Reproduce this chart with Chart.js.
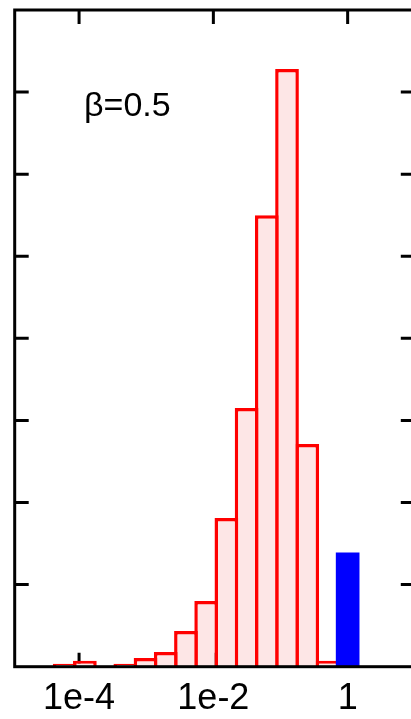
<!DOCTYPE html>
<html><head><meta charset="utf-8">
<script src="https://cdn.jsdelivr.net/npm/chart.js@4.4.1/dist/chart.umd.min.js"></script>
<style>
html,body{margin:0;padding:0;background:#fff;overflow:hidden;}
#wrap{position:relative;width:411px;height:719px;overflow:hidden;background:#fff;}
#c{position:absolute;left:0;top:0;}
#beta{position:absolute;left:84px;top:85px;font-family:"Liberation Sans",Arial,sans-serif;font-size:34px;line-height:normal;color:#000;white-space:nowrap;}
</style></head><body>
<div id="wrap"><canvas id="c" width="420" height="719"></canvas><div id="beta">β=0.5</div></div>
<script>
// Histogram bin centres (powers of two) and heights
const binCenters = [0.5, 0.25, 0.125, 0.0625, 0.03125, 0.015625, 0.0078125,
  0.00390625, 0.001953125, 0.0009765625, 0.00048828125, 0.000244140625,
  0.0001220703125, 0.00006103515625];
const redValues = [0.0037, 0.1356, 0.364, 0.275, 0.1576, 0.0906, 0.040,
  0.0217, 0.009, 0.0053, 0.0018, 0, 0.0037, 0.0018];
const blueCenters = [1];
const blueValues = [0.0693];
const xTickValues = [1e-4, 1e-2, 1];
const xTickLabels = ['1e-4', '1e-2', '1'];
const yTickValues = [0.05, 0.10, 0.15, 0.20, 0.25, 0.30, 0.35];

const frameTicks = {
  id: 'frameTicks',
  beforeDatasetsDraw(chart) {
    const {ctx, chartArea: a, scales: {x, y}} = chart;
    const L = 14;
    ctx.save();
    ctx.strokeStyle = '#000';
    ctx.lineWidth = 3;
    ctx.beginPath();
    x.ticks.forEach(t => {
      const px = x.getPixelForValue(t.value);
      ctx.moveTo(px, a.top); ctx.lineTo(px, a.top + L);
      ctx.moveTo(px, a.bottom); ctx.lineTo(px, a.bottom - L);
    });
    y.ticks.forEach(t => {
      const py = y.getPixelForValue(t.value);
      ctx.moveTo(a.left, py); ctx.lineTo(a.left + L, py);
      ctx.moveTo(a.right, py); ctx.lineTo(a.right - L, py);
    });
    ctx.stroke();
    ctx.restore();
  },
  afterDatasetsDraw(chart) {
    const {ctx, chartArea: a} = chart;
    ctx.save();
    ctx.strokeStyle = '#000';
    ctx.lineWidth = 3;
    ctx.strokeRect(a.left, a.top, a.right - a.left, a.bottom - a.top);
    ctx.restore();
  }
};

new Chart(document.getElementById('c'), {
  type: 'bar',
  data: {
    datasets: [
      {
        label: 'blue',
        data: blueCenters.map((x, i) => ({x, y: blueValues[i]})),
        backgroundColor: '#0000ff',
        borderWidth: 0,
        barThickness: 23,
        grouped: false,
        order: 0
      },
      {
        label: 'red',
        data: binCenters.map((x, i) => ({x, y: redValues[i]})),
        backgroundColor: '#fde6e6',
        borderColor: '#ff0000',
        borderWidth: 3.5,
        grouped: false,
        categoryPercentage: 1,
        barPercentage: 1.173,
        order: 1
      }
    ]
  },
  options: {
    responsive: false,
    animation: false,
    events: [],
    layout: {padding: {left: 0, right: 5.2, top: 10, bottom: 0}},
    plugins: {legend: {display: false}, tooltip: {enabled: false}},
    scales: {
      x: {
        type: 'logarithmic',
        position: 'bottom',
        min: 1.1e-5,
        max: 10,
        grid: {display: false, drawTicks: false},
        border: {display: false},
        afterBuildTicks: s => { s.ticks = xTickValues.map(v => ({value: v})); },
        afterFit: s => { s.height = 52.3; },
        ticks: {
          autoSkip: false,
          maxRotation: 0,
          padding: 11,
          color: '#000',
          font: {family: '"Liberation Sans", Arial, sans-serif', size: 36},
          callback: (v, i) => xTickLabels[i]
        }
      },
      y: {
        type: 'linear',
        min: 0,
        max: 0.4,
        grid: {display: false, drawTicks: false},
        border: {display: false},
        afterBuildTicks: s => { s.ticks = yTickValues.map(v => ({value: v})); },
        afterFit: s => { s.width = 14.7; },
        ticks: {display: false}
      }
    }
  },
  plugins: [frameTicks]
});
</script>
</body></html>
